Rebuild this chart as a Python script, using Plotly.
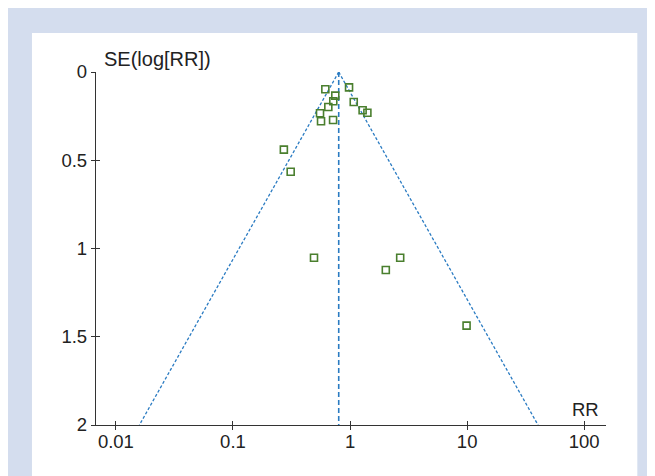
import numpy as np
import plotly.graph_objects as go

# ---- data ----
rr = [0.615, 0.748, 0.719, 0.652, 0.554, 0.565, 0.716, 0.98, 1.075, 1.28, 1.406,
      0.272, 0.311, 0.492, 2.68, 2.02, 9.89]
se = [0.098, 0.134, 0.166, 0.198, 0.234, 0.279, 0.272, 0.087, 0.170, 0.217, 0.231,
      0.440, 0.565, 1.052, 1.052, 1.122, 1.437]
summary_rr = 0.80
se_limits = [0.0, 2.0]
x_tickvals = [0.01, 0.1, 1, 10, 100]
x_ticktext = ["0.01", "0.1", "1", "10", "100"]
y_tickvals = [0, 0.5, 1, 1.5, 2]
y_ticktext = ["0", "0.5", "1", "1.5", "2"]

# figure is placed at (8,8) in the page, so coordinates below are page - 8
W, H = 647, 468
L, T = 88, 64
R = W - 597.7
B = H - 417
PW, PH = W - L - R, H - T - B

def px(x):
    return (x - L) / PW

def py(y):
    return (H - B - y) / PH

LINE_BLUE = "#2a7bc2"
MARK_GREEN = "#4a7f2e"
AX = "#333333"
FONT = "Liberation Sans, Arial, sans-serif"

fig = go.Figure()

se_line = np.array(se_limits)
lo = np.exp(np.log(summary_rr) - 1.96 * se_line)
hi = np.exp(np.log(summary_rr) + 1.96 * se_line)

fig.add_trace(go.Scatter(x=lo, y=se_line, mode="lines",
                         line=dict(color=LINE_BLUE, width=1.3, dash="3px,2px"),
                         hoverinfo="skip", showlegend=False))
fig.add_trace(go.Scatter(x=hi, y=se_line, mode="lines",
                         line=dict(color=LINE_BLUE, width=1.3, dash="3px,2px"),
                         hoverinfo="skip", showlegend=False))
fig.add_trace(go.Scatter(x=[summary_rr, summary_rr], y=se_line, mode="lines",
                         line=dict(color=LINE_BLUE, width=1.6, dash="5px,3px"),
                         hoverinfo="skip", showlegend=False))
fig.add_trace(go.Scatter(x=rr, y=se, mode="markers",
                         marker=dict(symbol="square-open", size=7,
                                     color=MARK_GREEN, line=dict(width=1.6, color=MARK_GREEN)),
                         showlegend=False))
# invisible trace so overlay axes (inside tick halves) are drawn
fig.add_trace(go.Scatter(x=[1], y=[1], xaxis="x2", yaxis="y2", mode="markers",
                         marker=dict(opacity=0), hoverinfo="skip", showlegend=False))

xr = [-2.17, 2.186]
yr = [2, 0]
tickfont = dict(family=FONT, size=18.5, color="#222222")

fig.update_layout(
    width=W, height=H,
    margin=dict(l=L, r=R, t=T, b=B),
    paper_bgcolor="white", plot_bgcolor="rgba(0,0,0,0)",
    xaxis=dict(type="log", range=xr, showgrid=False, zeroline=False,
               showline=True, linecolor=AX, linewidth=1.3,
               ticks="outside", ticklen=4, tickwidth=1.2, tickcolor=AX,
               ticklabelstandoff=-4,
               tickvals=x_tickvals, ticktext=x_ticktext, tickfont=tickfont),
    yaxis=dict(range=yr, showgrid=False, zeroline=False,
               showline=True, linecolor=AX, linewidth=1.3,
               ticks="outside", ticklen=4, tickwidth=1.2, tickcolor=AX,
               tickvals=y_tickvals, ticktext=y_ticktext, tickfont=tickfont),
    xaxis2=dict(type="log", range=xr, overlaying="x", anchor="y2", side="bottom",
                showgrid=False, zeroline=False, showline=False,
                ticks="inside", ticklen=4, tickwidth=1.2, tickcolor=AX,
                tickvals=x_tickvals, showticklabels=False),
    yaxis2=dict(range=yr, overlaying="y", anchor="x2", side="left",
                showgrid=False, zeroline=False, showline=False,
                ticks="inside", ticklen=4, tickwidth=1.2, tickcolor=AX,
                tickvals=y_tickvals, showticklabels=False),
    shapes=[
        dict(type="rect", xref="paper", yref="paper", layer="below",
             x0=px(-2), x1=px(W + 2), y0=py(H + 2), y1=py(0),
             fillcolor="#d4ddee", line=dict(width=0)),
        dict(type="rect", xref="paper", yref="paper", layer="below",
             x0=px(24), x1=px(629), y0=py(H + 2), y1=py(25),
             fillcolor="white", line=dict(width=0)),
    ],
    annotations=[
        dict(text="SE(log[RR])", xref="paper", yref="paper",
             x=px(94), y=py(51), xanchor="left", yanchor="middle",
             showarrow=False, font=dict(family=FONT, size=20, color="#222222")),
        dict(text="RR", xref="paper", yref="paper",
             x=px(593), y=py(401.5), xanchor="right", yanchor="middle",
             showarrow=False, font=dict(family=FONT, size=18.5, color="#222222")),
    ],
)

fig.write_html("out.html")
